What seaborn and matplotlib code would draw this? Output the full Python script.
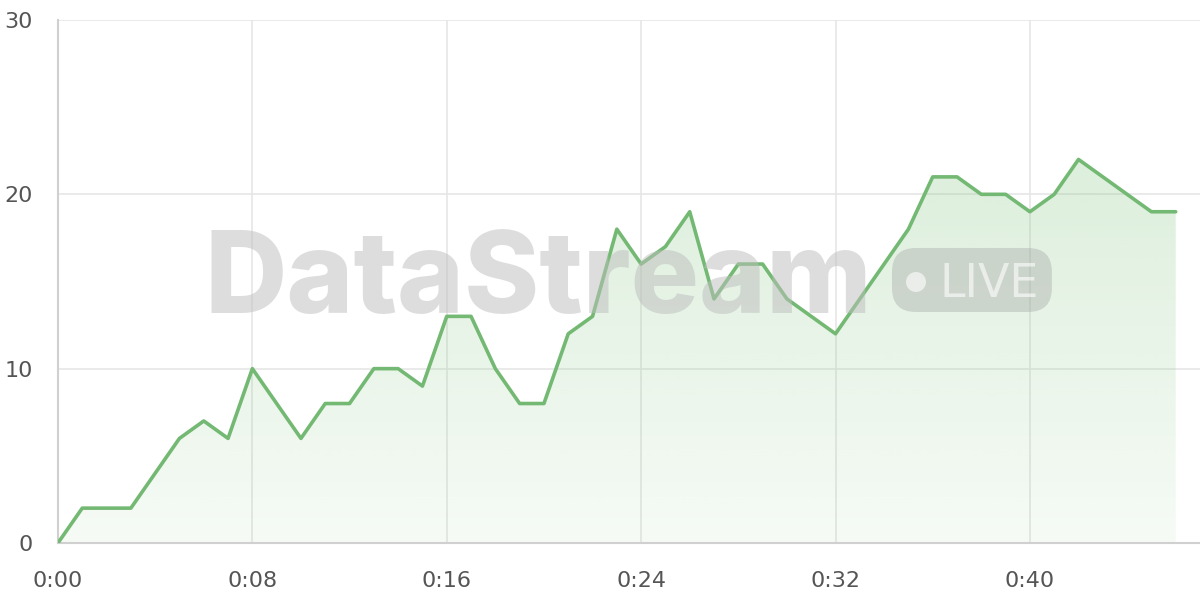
import numpy as np
import pandas as pd
import matplotlib
matplotlib.use("Agg")
import matplotlib.pyplot as plt
import seaborn as sns
from matplotlib.patches import FancyBboxPatch, Ellipse
from matplotlib.ticker import FuncFormatter

# data: one reading per second
seconds = list(range(47))
values = [0, 2, 2, 2, 4, 6, 7, 6, 10, 8,
          6, 8, 8, 10, 10, 9, 13, 13, 10, 8,
          8, 12, 13, 18, 16, 17, 19, 14, 16, 16,
          14, 13, 12, 14, 16, 18, 21, 21, 20, 20,
          19, 20, 22, 21, 20, 19, 19]
x_ticks = [0, 8, 16, 24, 32, 40]
y_ticks = [0, 10, 20, 30]

df = pd.DataFrame({"t": seconds, "v": values})

sns.set_style("white")
plt.rcParams['font.family'] = ['DejaVu Sans']

fig = plt.figure(figsize=(12, 6), dpi=100)
ax = fig.add_axes([0.0483, 0.095, 0.9517, 0.8717])

line_col = "#74b973"
grid_col = "#e6e6e6"

# gradient fill under the line
poly = ax.fill_between(df["t"], df["v"], 0, color="none", lw=0)
grad = np.linspace(0.0, 1.0, 256).reshape(-1, 1)
rgba = np.zeros((256, 1, 4))
rgba[..., :3] = matplotlib.colors.to_rgb("#8cc98a")
rgba[..., 3] = 0.08 + 0.22 * grad
img = ax.imshow(rgba, aspect="auto", origin="lower",
                extent=[0, 46, 0, 22], zorder=1)
img.set_clip_path(poly.get_paths()[0], transform=ax.transData)

sns.lineplot(data=df, x="t", y="v", ax=ax, color=line_col, lw=2.6, zorder=3)

ax.set_xlim(0, 47)
ax.set_ylim(0, 30)
ax.set_xticks(x_ticks)
ax.set_yticks(y_ticks)
ax.xaxis.set_major_formatter(FuncFormatter(lambda v, p: f"{int(v) // 60}:{int(v) % 60:02d}"))
ax.grid(True, color=grid_col, lw=1.2, zorder=0)
ax.set_axisbelow(True)
ax.tick_params(axis="both", length=11, color=grid_col, width=1.2,
               labelsize=16, labelcolor="#555555")
ax.tick_params(axis="x", pad=9)
ax.tick_params(axis="y", pad=7)
for s in ["top", "right"]:
    ax.spines[s].set_visible(False)
for s in ["left", "bottom"]:
    ax.spines[s].set_color("#d0d0d0")
    ax.spines[s].set_linewidth(1.5)
ax.set_xlabel("")
ax.set_ylabel("")

# watermark
fig.text(0.449, 0.478, "DataStream", fontsize=82, fontweight="heavy",
         family=["Inter", "DejaVu Sans"], color="#bdbdbd", alpha=0.5,
         ha="center", va="baseline", zorder=5)
badge = FancyBboxPatch((0.7433, 0.48), 0.1333, 0.1067,
                       boxstyle="round,pad=0,rounding_size=0.02",
                       transform=fig.transFigure, facecolor="#9e9e9e",
                       alpha=0.35, lw=0, zorder=5, mutation_aspect=2)
fig.add_artist(badge)
dot = Ellipse((916 / 1200, 1 - 282 / 600), 20 / 1200, 20 / 600,
              transform=fig.transFigure, facecolor="white", alpha=0.6,
              lw=0, zorder=6)
fig.add_artist(dot)
fig.text(0.7825, 0.505, "LIVE", fontsize=33, color="white", alpha=0.6,
         family=["DejaVu Sans"], ha="left", va="baseline", zorder=6)

fig.savefig("out.png", dpi=100)
